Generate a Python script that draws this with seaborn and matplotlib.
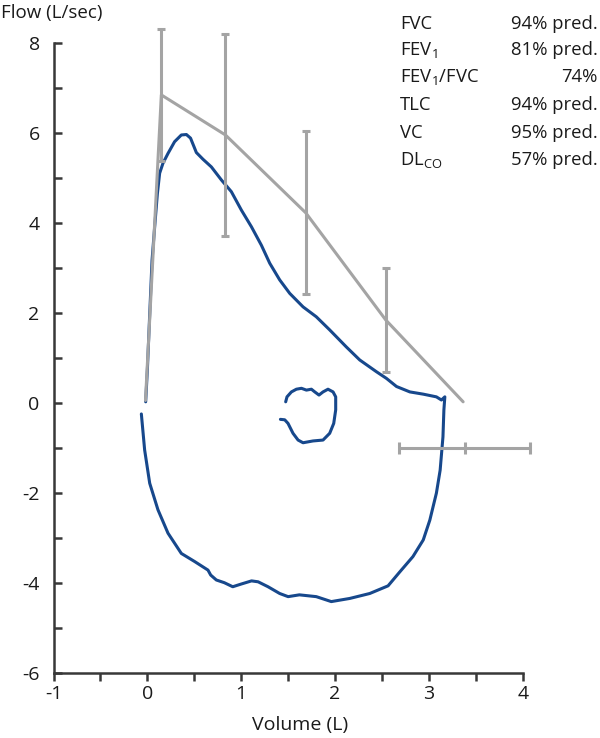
import numpy as np
import pandas as pd
import matplotlib
matplotlib.use("Agg")
import matplotlib.pyplot as plt
import seaborn as sns

# ---- data ----
# patient flow-volume loop: expiration (upper) then inspiration (lower)
loop_vol = [-0.018, 0.0, 0.027, 0.05, 0.078, 0.107, 0.131, 0.166, 0.22, 0.29, 0.362, 0.416,
            0.46, 0.497, 0.522, 0.593, 0.682, 0.789, 0.895, 1.002, 1.109, 1.215, 1.304,
            1.41, 1.517, 1.659, 1.80, 1.942, 2.12, 2.263, 2.44, 2.548, 2.655, 2.797, 2.94,
            3.08, 3.134, 3.17,
            3.16, 3.15, 3.12, 3.08, 3.01, 2.94, 2.83, 2.69, 2.565, 2.37, 2.157, 1.96, 1.80,
            1.62, 1.50, 1.41, 1.286, 1.18, 1.11, 1.00, 0.91, 0.82, 0.735, 0.675, 0.646,
            0.504, 0.362, 0.22, 0.113, 0.025, -0.029, -0.064]
loop_flow = [0.02, 0.73, 2.06, 3.17, 3.91, 4.65, 5.10, 5.32, 5.54, 5.80, 5.95, 5.96,
             5.88, 5.69, 5.56, 5.41, 5.24, 4.95, 4.69, 4.28, 3.91, 3.50, 3.10,
             2.73, 2.43, 2.13, 1.91, 1.62, 1.24, 0.95, 0.69, 0.54, 0.36, 0.24, 0.19,
             0.13, 0.06, 0.13,
             -0.16, -0.76, -1.50, -2.01, -2.61, -3.05, -3.42, -3.76, -4.07, -4.24, -4.35,
             -4.42, -4.31, -4.27, -4.31, -4.24, -4.09, -3.98, -3.96, -4.03, -4.09, -4.00,
             -3.94, -3.83, -3.72, -3.53, -3.35, -2.90, -2.38, -1.79, -1.05, -0.25]
# tidal breathing loop
tidal_vol = [1.474, 1.488, 1.535, 1.588, 1.642, 1.695, 1.748, 1.784, 1.829, 1.872, 1.925,
             1.979, 2.007, 2.007, 1.986, 1.943, 1.872, 1.765, 1.659, 1.606, 1.552, 1.499,
             1.464, 1.418]
tidal_flow = [0.02, 0.13, 0.24, 0.30, 0.32, 0.28, 0.30, 0.24, 0.17, 0.24, 0.30,
              0.24, 0.13, -0.16, -0.46, -0.68, -0.83, -0.85, -0.89, -0.83, -0.68, -0.46,
              -0.38, -0.37]
# predicted curve with error bars
pred_vol = [-0.02, 0.149, 0.832, 1.688, 2.54, 3.365]
pred_flow = [0.05, 6.84, 5.95, 4.22, 1.84, 0.02]
bar_vol = [0.149, 0.832, 1.688, 2.54]
bar_flow = [6.84, 5.95, 4.22, 1.84]
bar_err = [1.47, 2.25, 1.81, 1.15]
tlc_vol = [3.38]
tlc_flow = [-1.01]
tlc_err = [0.70]
# stats text
stat_names = ["FVC", "FEV$_1$", "FEV$_1$/FVC", "TLC", "VC", "DL$_{CO}$"]
stat_values = ["94% pred.", "81% pred.", "74%", "94% pred.", "95% pred.", "57% pred."]
xticks = [-1, 0, 1, 2, 3, 4]
yticks = [-6, -4, -2, 0, 2, 4, 6, 8]

# ---- style ----
sns.set_style("ticks")
FONT = "Open Sans"
plt.rcParams["font.family"] = [FONT, "DejaVu Sans"]
plt.rcParams["mathtext.fontset"] = "custom"
plt.rcParams["mathtext.rm"] = FONT
plt.rcParams["mathtext.it"] = FONT
plt.rcParams["mathtext.default"] = "regular"
plt.rcParams["axes.unicode_minus"] = False
plt.rcParams["lines.solid_joinstyle"] = "round"
plt.rcParams["lines.solid_capstyle"] = "round"

BLUE = "#17488c"
GRAY = "#a4a4a4"
DARK = "#383838"
TXT = "#1a1a1a"

fig = plt.figure(figsize=(6, 7.38), dpi=100)
ax = fig.add_axes([0.0892, 0.0885, 0.782, 0.8536])

# patient loops
loop_df = pd.DataFrame({"vol": loop_vol, "flow": loop_flow})
tidal_df = pd.DataFrame({"vol": tidal_vol, "flow": tidal_flow})
sns.lineplot(data=loop_df, x="vol", y="flow", sort=False, estimator=None,
             color=BLUE, lw=2.2, ax=ax, zorder=2)
sns.lineplot(data=tidal_df, x="vol", y="flow", sort=False, estimator=None,
             color=BLUE, lw=2.2, ax=ax, zorder=2)

# predicted curve
pred_df = pd.DataFrame({"vol": pred_vol, "flow": pred_flow})
sns.lineplot(data=pred_df, x="vol", y="flow", sort=False, estimator=None,
             color=GRAY, lw=2.2, ax=ax, zorder=3)
ax.errorbar(bar_vol, bar_flow, yerr=bar_err, fmt="none", ecolor=GRAY,
            elinewidth=2.2, capsize=3, capthick=2.2, zorder=3, clip_on=False)
ax.errorbar(tlc_vol, tlc_flow, xerr=tlc_err, fmt="|", color=GRAY, ms=8, mew=2.2,
            ecolor=GRAY, elinewidth=2.2, capsize=4, capthick=2.2, zorder=3,
            clip_on=False)

ax.set_xlim(-1, 4)
ax.set_ylim(-6, 8)
ax.set_xticks(xticks)
ax.set_xticks(np.arange(-1, 4.01, 0.5), minor=True)
ax.set_yticks(yticks)
ax.set_yticks(np.arange(-6, 8.01, 1), minor=True)
ax.set_xticklabels([str(v) for v in xticks])
ax.set_yticklabels([str(v) for v in yticks])
ax.tick_params(axis="x", which="both", direction="out", length=6, width=1.8,
               color=DARK, labelsize=14, labelcolor=TXT, pad=3)
ax.tick_params(axis="y", which="both", direction="in", length=6, width=1.8,
               color=DARK, labelsize=14, labelcolor=TXT, pad=10)
for s in ["top", "right"]:
    ax.spines[s].set_visible(False)
for s in ["left", "bottom"]:
    ax.spines[s].set_linewidth(1.8)
    ax.spines[s].set_color(DARK)
ax.set_xlabel("")
ax.set_ylabel("")

fig.text(0.5008, 1 - 725 / 738, "Volume (L)", ha="center", va="center",
         fontsize=14, color=TXT)
fig.text(0.0015, 1 - 13 / 738, "Flow (L/sec)", ha="left", va="center",
         fontsize=13.5, color=TXT)

row_y = [24, 50, 77, 105, 133, 160]
for name, val, yy in zip(stat_names, stat_values, row_y):
    fig.text(400 / 600, 1 - yy / 738, name, ha="left", va="center",
             fontsize=13.3, color=TXT)
    fig.text(598 / 600, 1 - yy / 738, val, ha="right", va="center",
             fontsize=13.3, color=TXT)

fig.savefig("out.png", dpi=100, facecolor="white")
